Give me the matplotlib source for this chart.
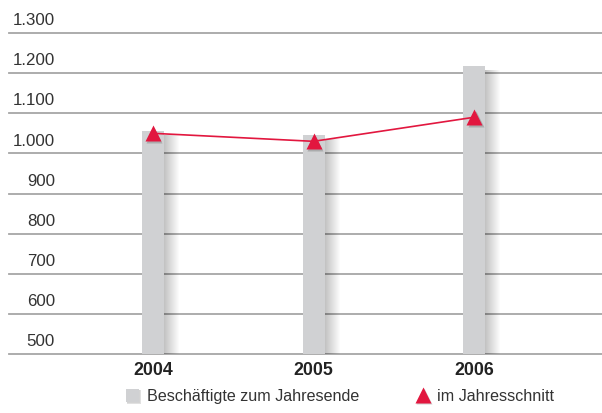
import numpy as np
import matplotlib
matplotlib.use('Agg')
import matplotlib.pyplot as plt
from matplotlib.patches import Rectangle
from matplotlib import transforms

plt.rcParams['font.family'] = ['Liberation Sans', 'DejaVu Sans']

# Daten
jahre = ['2004', '2005', '2006']
jahresende = [1057, 1045, 1217]      # Beschäftigte zum Jahresende (Balken)
jahresschnitt = [1050, 1030, 1090]   # im Jahresschnitt (Linie)
y_ticks = [500, 600, 700, 800, 900, 1000, 1100, 1200, 1300]
legende = ['Beschäftigte zum Jahresende', 'im Jahresschnitt']

rot = '#e2173f'
grau = '#d0d1d3'
linie = '#a6a6a6'

W, H = 602, 414
fig = plt.figure(figsize=(W / 100, H / 100), dpi=100)
ax = fig.add_axes([9 / W, (H - 355) / H, (W - 9) / W, (355 - 34) / H])
ax.set_xlim(-0.897, 2.797)
ax.set_ylim(500, 1300)
for s in ax.spines.values():
    s.set_visible(False)
ax.set_xticks([])
ax.set_yticks([])

px = 1 / 160.5   # x-Dateneinheiten pro Pixel
py = 2.5         # y-Dateneinheiten pro Pixel

x = np.arange(len(jahre))
bw = 22 * px
hoehe = np.array(jahresende) - 500

# Gitterlinien
for v in y_ticks:
    ax.axhline(v, color=linie, lw=1.3, zorder=1, clip_on=False)
    ax.text((55 - 9) / (W - 9), v + 22, f'{v:,}'.replace(',', '.'),
            transform=ax.get_yaxis_transform(), ha='right', va='baseline',
            fontsize=12.2, color='#333333')

# weicher Schatten rechts neben den Balken
for k in range(1, 16):
    ax.bar(x - bw / 2 + 3 * px, hoehe - 4 * py, bottom=500,
           width=bw + k * px - 3 * px, align='edge',
           color='black', alpha=0.016, lw=0, zorder=2)

ax.bar(x, hoehe, bottom=500, width=bw, color=grau, lw=0, zorder=3)

# Linie mit Dreiecken
schatten = transforms.offset_copy(ax.transData, fig, x=1.5, y=-2, units='dots')
ax.plot(x, jahresschnitt, ls='none', marker='^', ms=11.5, color='black',
        alpha=0.18, mec='none', transform=schatten, zorder=4)
ax.plot(x, jahresschnitt, color=rot, lw=1.2, zorder=5)
ax.plot(x, jahresschnitt, ls='none', marker='^', ms=11.5, color=rot,
        mec='none', zorder=6)

for xi, j in zip(x, jahre):
    ax.text(xi, -16 / 321, j, transform=ax.get_xaxis_transform(),
            ha='center', va='center', fontsize=12.8, fontweight='bold',
            color='#222222')

# Legende
lg = fig.add_axes([0, 0, 1, 1])
lg.set_xlim(0, W)
lg.set_ylim(H, 0)
lg.axis('off')
lg.patch.set_alpha(0)
for k in range(1, 4):
    lg.add_patch(Rectangle((127, 391), 12 + k * 0.8, 12 + k * 0.8,
                           color='black', alpha=0.06, lw=0))
lg.add_patch(Rectangle((126, 390), 13, 13, color=grau, lw=0))
lg.text(147, 397, legende[0], va='center', ha='left', fontsize=11.6,
        color='#333333')
lg.plot([423.5], [397.5], ls='none', marker='^', ms=11.5, color='black',
        alpha=0.18, mec='none')
lg.plot([422.5], [396], ls='none', marker='^', ms=11.5, color=rot,
        mec='none')
lg.text(437, 397, legende[1], va='center', ha='left', fontsize=11.6,
        color='#333333')

fig.savefig('out.png', dpi=100)
